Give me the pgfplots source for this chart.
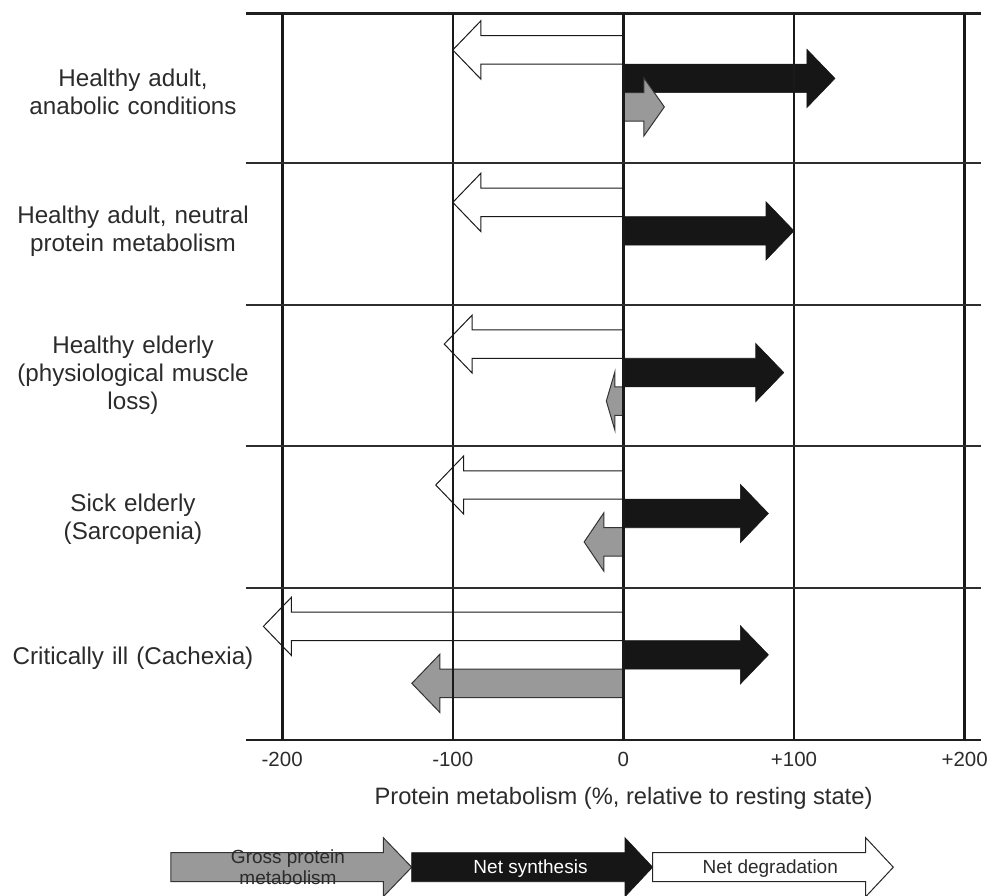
\documentclass[border=0pt]{standalone}
\usepackage{pgfplots}
\usepackage{pgfplotstable}
\pgfplotsset{compat=1.18}
\usepackage{fontspec}
\setmainfont{Liberation Sans}

\definecolor{grossfill}{HTML}{999999}
\definecolor{synthfill}{HTML}{161616}
\definecolor{txt}{HTML}{2B2B2B}

% y = arrow centre (rows from bottom), v = change in % of resting state
\pgfplotstableread{
y      v
5.249  -100
4.200  -100
3.225  -105
2.255  -110
1.282  -211
}\degtable

\pgfplotstableread{
y      v
5.053  124
4.004  100
3.029  94
2.059  85
1.086  85
}\syntable

\pgfplotstableread{
y      v
4.857  24
2.833  -10
1.863  -23
0.890  -124
}\grosstable

\pgfplotsset{
  degstyle/.style={fill=white, draw=black!90, line width=1pt},
  synstyle/.style={fill=synthfill, draw=synthfill, line width=0.6pt},
  grossstyle/.style={fill=grossfill, draw=black!80, line width=1pt},
}

% one block arrow per table row, from 0 to v
\newcommand{\arrowrows}[2]{%
  \pgfplotstablegetrowsof{#1}%
  \pgfmathtruncatemacro{\nrows}{\pgfplotsretval-1}%
  \pgfplotsforeachungrouped \rowi in {0,...,\nrows}{%
    \pgfplotstablegetelem{\rowi}{y}\of{#1}\let\ay\pgfplotsretval
    \pgfplotstablegetelem{\rowi}{v}\of{#1}\let\av\pgfplotsretval
    \pgfmathsetmacro{\hl}{min(16.4,0.5*abs(\av))}%
    \pgfmathsetmacro{\xb}{(\av>0) ? (\av-\hl) : (\av+\hl)}%
    \pgfmathsetmacro{\ya}{\ay-0.098}\pgfmathsetmacro{\yb}{\ay+0.098}%
    \pgfmathsetmacro{\yc}{\ay-0.2}\pgfmathsetmacro{\yd}{\ay+0.2}%
    \edef\doplot{\noexpand\addplot[#2] coordinates {(0,\ya) (\xb,\ya) (\xb,\yc) (\av,\ay) (\xb,\yd) (\xb,\yb) (0,\yb)} -- cycle;}%
    \doplot
  }%
}

\newcommand{\legarrow}[4]{%
  \path[#4] (#1pt,-112.7pt) -- (#2pt,-112.7pt) -- (#2pt,-97.7pt) -- (#3pt,-127.2pt)
    -- (#2pt,-156.7pt) -- (#2pt,-141.7pt) -- (#1pt,-141.7pt) -- cycle;}

\begin{document}
\begin{tikzpicture}
\begin{axis}[
  at={(0pt,0pt)}, anchor=south west,
  scale only axis, width=735pt, height=726.5pt,
  xmin=-221.2, xmax=209.6, ymin=0.5, ymax=5.5,
  axis on top,
  separate axis lines,
  x axis line style={line width=2.8pt, color=black!88},
  y axis line style={draw=none},
  major tick length=0pt,
  xtick={-200,-100,0,100,200},
  xticklabels={-200,-100,0,+100,+200},
  xmajorgrids,
  x grid style={line width=1.7pt, color=black!90},
  extra x ticks={-200,0,200},
  extra x tick labels={},
  extra x tick style={grid=major, x grid style={line width=2.8pt}},
  ytick={1.06,2.02,3.01,4.0,4.96},
  yticklabels={
    {Critically ill (Cachexia)},
    {Sick elderly\\(Sarcopenia)},
    {Healthy elderly\\(physiological muscle\\loss)},
    {Healthy adult, neutral\\protein metabolism},
    {Healthy adult,\\anabolic conditions}},
  extra y ticks={1.546,2.524,3.494,4.471},
  extra y tick labels={},
  extra y tick style={grid=major, y grid style={line width=2.2pt, color=black!82}},
  xticklabel style={anchor=base, yshift=-26.7pt, font=\fontsize{20.5}{24}\selectfont, text=txt},
  yticklabel style={anchor=center, xshift=-113pt, text width=250pt, align=center,
    font=\fontsize{24.2}{28}\selectfont, text=txt},
  xlabel={Protein metabolism (\%, relative to resting state)},
  xlabel style={at={(axis description cs:0.5,0)}, anchor=base, yshift=-64.3pt, xshift=10pt,
    font=\fontsize{23.7}{28}\selectfont, text=txt},
]
\arrowrows{\degtable}{degstyle}
\arrowrows{\syntable}{synstyle}
\arrowrows{\grosstable}{grossstyle}
\end{axis}

% key below the chart
\legarrow{-75}{137.3}{165.7}{fill=grossfill, draw=black!80, line width=1pt}
\legarrow{165.7}{379}{406.7}{fill=synthfill, draw=synthfill, line width=0.6pt}
\legarrow{406.7}{619.7}{647.3}{fill=white, draw=black!85, line width=1pt}
\node[anchor=center, align=center, font=\fontsize{19}{21.5}\selectfont, text=txt] at (42pt,-127.4pt) {Gross protein\\metabolism};
\node[anchor=base, font=\fontsize{19}{22}\selectfont, text=white] at (284.5pt,-133pt) {Net synthesis};
\node[anchor=base, font=\fontsize{19}{22}\selectfont, text=txt] at (524.3pt,-133pt) {Net degradation};

\pgfresetboundingbox
\path[use as bounding box] (-246pt,-155pt) rectangle (757pt,740pt);
\end{tikzpicture}
\end{document}
